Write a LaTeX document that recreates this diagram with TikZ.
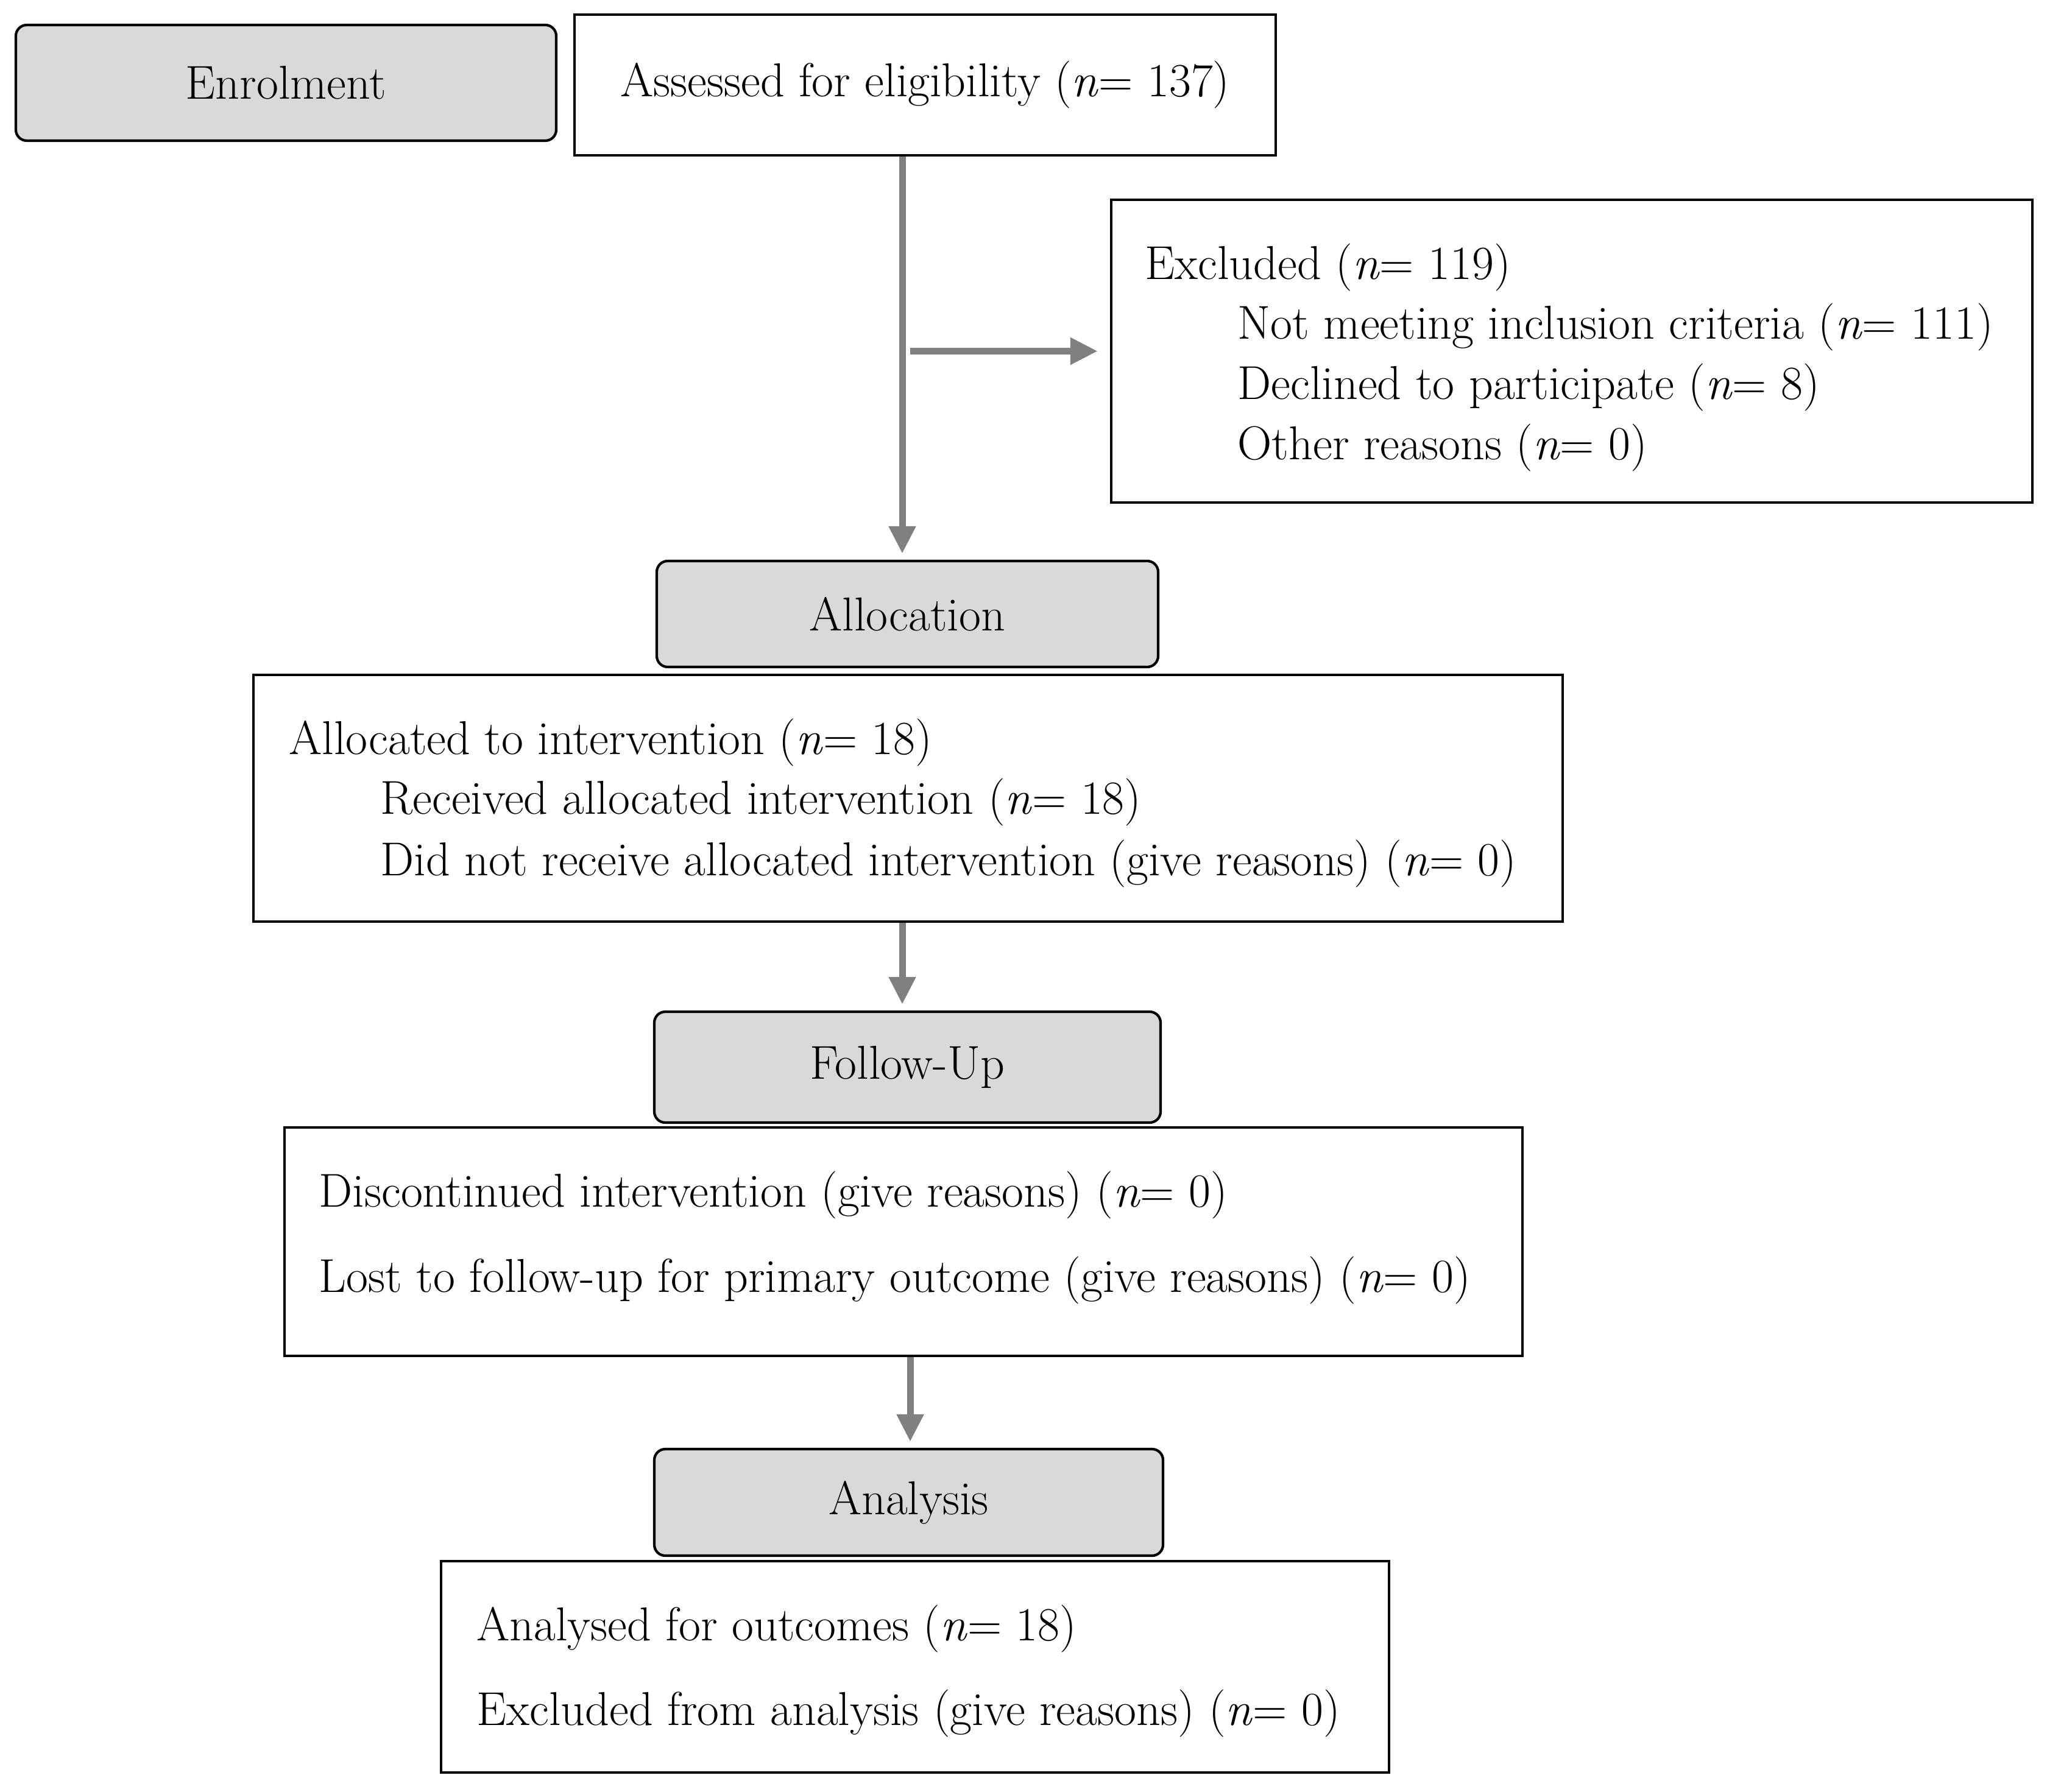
\documentclass[tikz,border=0pt]{standalone}
\usetikzlibrary{arrows.meta}
\definecolor{boxgray}{HTML}{D9D9D9}
\definecolor{arrgray}{HTML}{808080}
\tikzset{
  stagebox/.style={draw=black, line width=1.2pt, fill=boxgray, rounded corners=0.18cm, inner sep=0, font=\fontsize{22.2}{26}\selectfont},
  plainbox/.style={draw=black, line width=1.2pt, fill=white, inner sep=0, font=\fontsize{22.2}{26}\selectfont},
  txt/.style={inner sep=0, anchor=west, text height=0.75em, text depth=0.07em, yshift=-0.09cm, font=\fontsize{22.2}{26}\selectfont},
  flow/.style={draw=arrgray, line width=0.11cm, -{Triangle[length=0.45cm,width=0.42cm]}, shorten >=0.1cm}
}
\begin{document}
\begin{tikzpicture}
\useasboundingbox (0,0) rectangle (33.6,-29.42);
% boxes
\node[stagebox, minimum width=8.87cm, minimum height=1.90cm] (enrol) at (4.695,-1.36) {Enrolment};
\node[plainbox, minimum width=11.51cm, minimum height=2.31cm] (assess) at (15.185,-1.395) {Assessed for eligibility (\textit{n}= 137)};
\node[plainbox, minimum width=15.12cm, minimum height=4.97cm] (excl) at (25.80,-5.765) {};
\node[stagebox, minimum width=8.23cm, minimum height=1.74cm] (alloc) at (14.895,-10.08) {Allocation};
\node[plainbox, minimum width=21.49cm, minimum height=4.05cm] (allocd) at (14.905,-13.105) {};
\node[stagebox, minimum width=8.31cm, minimum height=1.82cm] (follow) at (14.895,-17.52) {Follow-Up};
\node[plainbox, minimum width=20.32cm, minimum height=3.75cm] (disc) at (14.83,-20.385) {};
\node[stagebox, minimum width=8.35cm, minimum height=1.75cm] (analysis) at (14.915,-24.665) {Analysis};
\node[plainbox, minimum width=15.56cm, minimum height=3.47cm] (analysed) at (15.02,-27.365) {};
% texts
\node[txt] (e1) at (18.79,-4.38) {Excluded (\textit{n}= 119)};
\node[txt] (e2) at (20.31,-5.36) {Not meeting inclusion criteria (\textit{n}= 111)};
\node[txt] (e3) at (20.31,-6.35) {Declined to participate (\textit{n}= 8)};
\node[txt] (e4) at (20.31,-7.34) {Other reasons (\textit{n}= 0)};
\node[txt] (a1) at (4.74,-12.18) {Allocated to intervention (\textit{n}= 18)};
\node[txt] (a2) at (6.24,-13.16) {Received allocated intervention (\textit{n}= 18)};
\node[txt] (a3) at (6.24,-14.17) {Did not receive allocated intervention (give reasons) (\textit{n}= 0)};
\node[txt] (d1) at (5.23,-19.61) {Discontinued intervention (give reasons) (\textit{n}= 0)};
\node[txt] (d2) at (5.23,-21.01) {Lost to follow-up for primary outcome (give reasons) (\textit{n}= 0)};
\node[txt] (s1) at (7.82,-26.73) {Analysed for outcomes (\textit{n}= 18)};
\node[txt] (s2) at (7.82,-28.12) {Excluded from analysis (give reasons) (\textit{n}= 0)};
% connectors
\coordinate (colA) at (14.81,0);
\coordinate (colB) at (14.94,0);
\coordinate (branch) at (14.94,-5.765);
\draw[flow] (assess.south -| colA) -- (alloc.north -| colA);
\draw[flow, shorten >=0.2cm] (branch) -- (excl.west);
\draw[flow] (allocd.south -| colA) -- (follow.north -| colA);
\draw[flow] (disc.south -| colB) -- (analysis.north -| colB);
\end{tikzpicture}
\end{document}
